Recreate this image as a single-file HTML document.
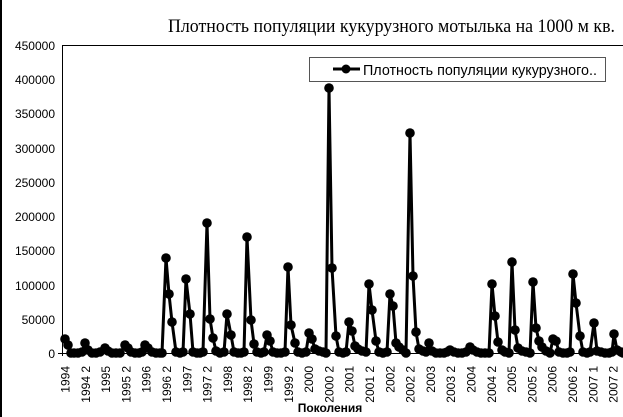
<!DOCTYPE html>
<html><head><meta charset="utf-8"><style>
html,body{margin:0;padding:0;background:#fff;}
svg{display:block;}
</style></head><body>
<svg id="s" width="623" height="417" xmlns="http://www.w3.org/2000/svg">
<rect x="0" y="0" width="623" height="417" fill="#fff"/>
<line x1="1" y1="0" x2="1" y2="417" stroke="#000" stroke-width="2"/>
<text x="615" y="32" text-anchor="end" font-family="Liberation Serif, serif" font-size="19" fill="#000" textLength="447" lengthAdjust="spacingAndGlyphs">Плотность популяции кукурузного мотылька на 1000 м кв.</text>
<line x1="62" y1="45.5" x2="623" y2="45.5" stroke="#000" stroke-width="1"/>
<line x1="62.5" y1="45" x2="62.5" y2="356" stroke="#000" stroke-width="1"/>
<line x1="58" y1="353.5" x2="623" y2="353.5" stroke="#000" stroke-width="1"/>
<g font-family="Liberation Sans, sans-serif" font-size="12" text-anchor="end" fill="#000">
<text x="55" y="50">450000</text>
<text x="55" y="84">400000</text>
<text x="55" y="118">350000</text>
<text x="55" y="153">300000</text>
<text x="55" y="187">250000</text>
<text x="55" y="221">200000</text>
<text x="55" y="255">150000</text>
<text x="55" y="290">100000</text>
<text x="55" y="324">50000</text>
<text x="55" y="358">0</text>
</g>
<g id="xl" font-family="Liberation Sans, sans-serif" font-size="12" fill="#000"></g>
<polyline id="ln" fill="none" stroke="#000" stroke-width="3" stroke-linejoin="round"/>
<g id="dots" fill="#000"></g>
<text x="330" y="412" text-anchor="middle" font-family="Liberation Sans, sans-serif" font-size="12" font-weight="bold">Поколения</text>
<rect x="309.5" y="57.5" width="296" height="24" fill="#fff" stroke="#555"/>
<line x1="333" y1="69" x2="360" y2="69" stroke="#000" stroke-width="3"/>
<circle cx="346" cy="69" r="4.5" fill="#000"/>
<text x="363" y="75" font-family="Liberation Sans, sans-serif" font-size="15" textLength="234" lengthAdjust="spacingAndGlyphs">Плотность популяции кукурузного..</text>
</svg>
<script>
var labels=["1994","1994 2","1995","1995 2","1996","1996 2","1997","1997 2","1998","1998 2","1999","1999 2","2000","2000 2","2001","2001 2","2002","2002 2","2003","2003 2","2004","2004 2","2005","2005 2","2006","2006 2","2007 1","2007 2"];
var xl=document.getElementById('xl');
labels.forEach(function(l,i){var x=65+i*20.3;
var t=document.createElementNS('http://www.w3.org/2000/svg','text');
t.setAttribute('transform','translate('+(x+4.5)+',366) rotate(-90)');t.setAttribute('text-anchor','end');t.textContent=l;xl.appendChild(t);});
var P=[[65,339],[68,345],[71,353],[74,353],[78,353],[82,352],[85,343],[88,350],[92,353],[96,353],[100,352],[105,348],[108,351],[112,353],[116,353],[120,353],[125,345],[128,348],[131,352],[135,353],[139,353],[142,352],[145,345],[148,348],[152,352],[156,353],[160,353],[162,353],[166,258],[169,294],[172,322],[176,352],[180,353],[183,352],[186,279],[190,314],[193,352],[197,353],[200,353],[203,352],[207,223],[210,319],[213,338],[216,351],[220,353],[224,352],[227,314],[231,335],[234,352],[238,353],[241,353],[244,352],[247,237],[251,320],[254,344],[257,352],[261,353],[264,352],[267,335],[270,341],[273,352],[277,353],[281,353],[285,352],[288,267],[291,325],[295,343],[298,352],[302,353],[306,352],[309,333],[312,339],[315,349],[319,351],[323,352],[326,353],[329,88],[332,268],[336,336],[339,352],[343,353],[346,352],[349,322],[352,331],[355,346],[358,349],[362,351],[366,352],[369,284],[372,310],[376,341],[379,352],[383,353],[387,352],[390,294],[393,306],[396,343],[399,347],[403,350],[406,353],[410,133],[413,276],[416,332],[419,349],[423,351],[426,352],[429,343],[432,351],[436,353],[440,353],[444,353],[447,352],[450,350],[454,352],[458,353],[462,353],[466,352],[470,347],[473,350],[477,352],[481,353],[485,353],[489,353],[492,284],[495,316],[498,342],[502,350],[505,352],[509,353],[512,262],[515,330],[518,348],[522,351],[526,352],[530,353],[533,282],[536,328],[539,341],[542,347],[546,351],[550,353],[553,339],[556,341],[559,352],[563,353],[567,353],[570,352],[573,274],[576,303],[580,336],[583,352],[587,353],[590,352],[594,323],[597,351],[601,352],[605,353],[609,353],[612,352],[614,334],[617,350],[621,352],[623,353]];
document.getElementById('ln').setAttribute('points',P.map(function(p){return p.join(',')}).join(' '));
var d=document.getElementById('dots');
P.forEach(function(p){var c=document.createElementNS('http://www.w3.org/2000/svg','circle');c.setAttribute('cx',p[0]);c.setAttribute('cy',p[1]);c.setAttribute('r',4.8);d.appendChild(c);});
</script>
</body></html>
